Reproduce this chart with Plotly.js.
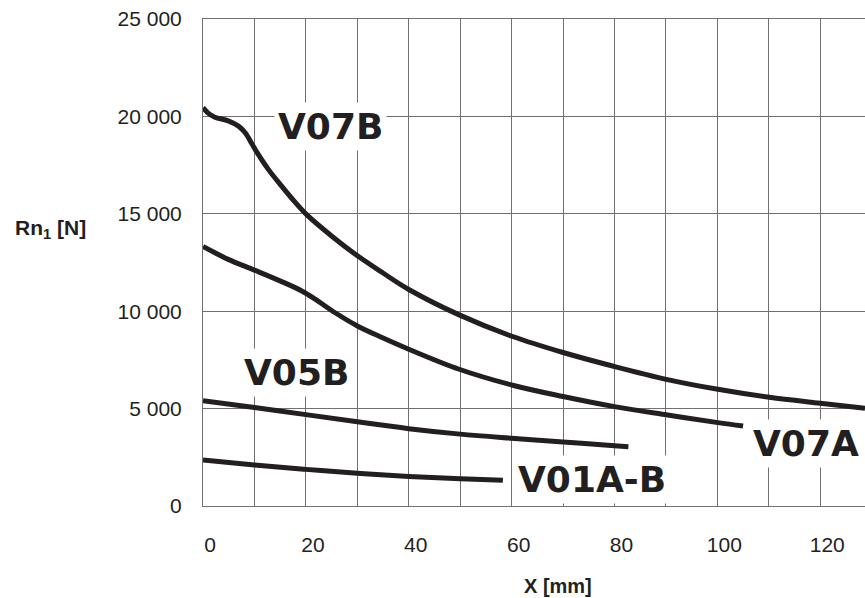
<!DOCTYPE html>
<html>
<head>
<meta charset="utf-8">
<script src="https://cdn.plot.ly/plotly-3.0.1.min.js"></script>
<style>html,body{margin:0;padding:0;background:#fff;}#chart{width:865px;height:598px;}</style>
</head>
<body>
<div id="chart"></div>
<script>
// Curve data (X in mm, Rn1 in N)
const v07bX = [0, 1, 2.3, 4.9, 6.9, 8.2, 9.5, 10.5, 12.7, 15.3, 17.9, 20.3, 25.3, 30.1, 35, 40.1, 49.8, 60.2, 70, 80, 90.3, 100.1, 110.1, 120, 128.7];
const v07bY = [20450, 20170, 19960, 19770, 19500, 19160, 18600, 18150, 17280, 16420, 15600, 14920, 13800, 12830, 11960, 11100, 9810, 8700, 7880, 7160, 6490, 5990, 5580, 5275, 5020];

const v07aX = [0, 4.9, 10, 15.3, 19.2, 21.8, 25.7, 30.1, 34.8, 40, 49.8, 60.2, 70, 80, 90.3, 100.1, 105];
const v07aY = [13320, 12660, 12110, 11520, 11040, 10620, 9920, 9230, 8650, 8050, 7020, 6200, 5620, 5100, 4670, 4280, 4110];

const v05bX = [0, 10, 20, 30, 40, 50, 60, 70, 80, 82.7];
const v05bY = [5410, 5060, 4690, 4320, 3970, 3690, 3480, 3290, 3090, 3040];

const v01X = [0, 10, 20, 30, 40, 50, 58.3];
const v01Y = [2360, 2110, 1880, 1680, 1520, 1400, 1320];

// Curve labels and their anchor positions (data units)
const labelTexts = ["V07B", "V07A", "V05B", "V01A-B"];
const labelX = [24.7, 117.2, 18.2, 75.7];
const labelY = [19507, 3219, 6828, 1386];

// Axis ticks
const xTickVals = [0, 20, 40, 60, 80, 100, 120];
const xTickText = ["0", "20", "40", "60", "80", "100", "120"];
const xMinorVals = [10, 30, 50, 70, 90, 110];
const yTickVals = [0, 5000, 10000, 15000, 20000, 25000];
const yTickText = ["0", "5 000", "10 000", "15 000", "20 000", "25 000"];

const lineColor = "#231f20";
const gridColor = "#707070";
const mk = (x, y, name) => ({
  x: x, y: y, name: name, type: "scatter", mode: "lines",
  line: {color: lineColor, width: 5, shape: "spline", smoothing: 1},
  hoverinfo: "x+y+name"
});

const traces = [
  mk(v07bX, v07bY, "V07B"),
  mk(v07aX, v07aY, "V07A"),
  mk(v05bX, v05bY, "V05B"),
  mk(v01X, v01Y, "V01A-B")
];

const annotations = labelTexts.map((t, i) => ({
  text: t, x: labelX[i], y: labelY[i], xref: "x", yref: "y",
  showarrow: false, xanchor: "center", yanchor: "middle",
  bgcolor: "#ffffff", borderpad: 3,
  font: {family: "DejaVu Sans", size: 36, color: lineColor, weight: "bold"}
}));

annotations.push({
  text: "Rn<sub>1</sub> [N]", xref: "paper", yref: "paper",
  x: (50 - 203) / 662, y: (506 - 229) / 487, showarrow: false,
  xanchor: "center", yanchor: "middle",
  font: {family: "Liberation Sans", size: 21, color: lineColor, weight: "bold"}
});
annotations.push({
  text: "X [mm]", xref: "paper", yref: "paper",
  x: (558 - 203) / 662, y: (506 - 586) / 487, showarrow: false,
  xanchor: "center", yanchor: "middle",
  font: {family: "Liberation Sans", size: 20, color: lineColor, weight: "bold"}
});

const layout = {
  width: 865, height: 598,
  margin: {l: 203, r: 0, t: 19, b: 92, pad: 0},
  paper_bgcolor: "#ffffff", plot_bgcolor: "#ffffff",
  showlegend: false,
  font: {family: "Liberation Sans", color: lineColor},
  xaxis: {
    range: [0, 128.7], tickmode: "array", tickvals: xTickVals, ticktext: xTickText,
    minor: {tickmode: "array", tickvals: xMinorVals, showgrid: true, gridcolor: gridColor, gridwidth: 1, ticks: ""},
    showgrid: true, gridcolor: gridColor, gridwidth: 1, zeroline: false,
    showline: true, linecolor: gridColor, linewidth: 1, mirror: true,
    ticks: "", ticklabelstandoff: 20, ticklabelshift: 7,
    tickfont: {family: "Liberation Sans", size: 21, color: lineColor},
    fixedrange: true
  },
  yaxis: {
    range: [0, 25000], tickmode: "array", tickvals: yTickVals, ticktext: yTickText,
    showgrid: true, gridcolor: gridColor, gridwidth: 1, zeroline: false,
    showline: true, linecolor: gridColor, linewidth: 1,
    ticks: "", ticklabelstandoff: 16,
    tickfont: {family: "Liberation Sans", size: 21, color: lineColor},
    fixedrange: true
  },
  annotations: annotations
};

Plotly.newPlot("chart", traces, layout, {displayModeBar: false, staticPlot: true});
</script>
</body>
</html>
